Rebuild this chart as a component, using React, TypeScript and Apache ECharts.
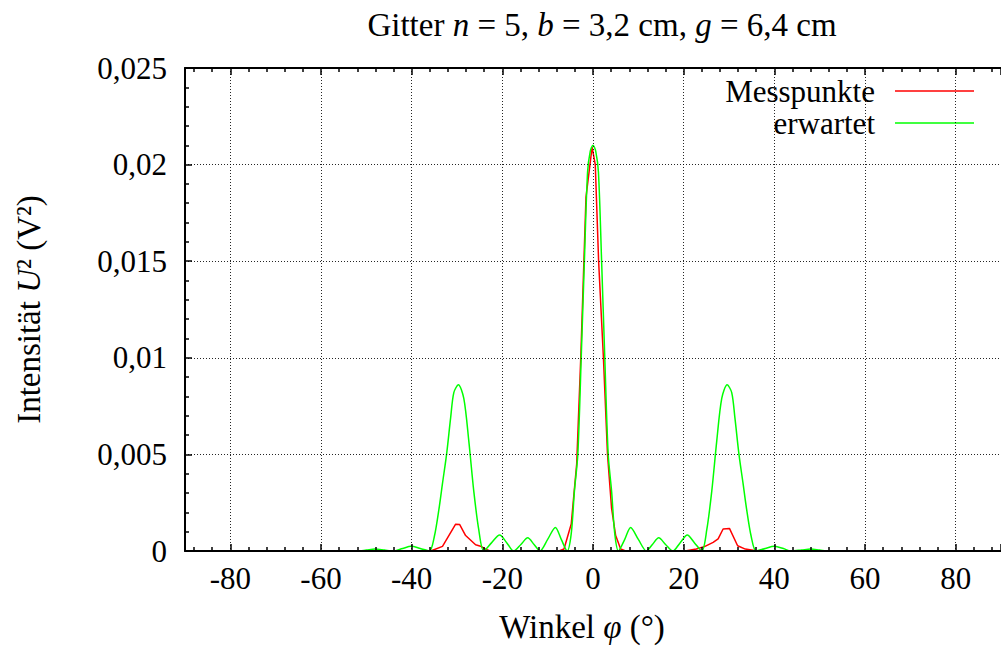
import React, { useEffect, useRef } from 'react';
import * as echarts from 'echarts';

// Messpunkte (measured), angle in degrees and intensity U^2 in V^2
const redX = [-90, -60, -40, -35.8, -33.2, -30.3, -29.4, -28.1, -25.9, -24.8, -23.7, -22.7, -15, -7.5, -6.4, -4.8, -3.6, -2.7, -1.55, -0.2, 0.5, 1.24, 2.3, 3.2, 4.1, 5.0, 6.1, 7.2, 15, 20.3, 22.8, 24.7, 26.5, 27.6, 28.7, 30.1, 31.9, 33.6, 35.6, 37, 60, 90];
const redY = [0, 0, 0, 0, 0.00024, 0.00139, 0.00137, 0.0008, 0.00032, 0.00025, 0.0001, 0, 0, 0, 0.0001, 0.0014, 0.0045, 0.01, 0.0183, 0.0209, 0.02, 0.015, 0.01, 0.005, 0.0022, 0.0008, 0.0001, 0, 0, 0, 0.0001, 0.00024, 0.00045, 0.00063, 0.00114, 0.00117, 0.00027, 0.0001, 0.00002, 0, 0, 0];

// erwartet (expected)
const greenX = [-90, -70, -56, -52, -50, -48.1, -46, -44.1, -42, -40.1, -38.1, -36.1, -35.0, -33.9, -33.2, -32.3, -31.4, -30.7, -29.7, -28.5, -27.4, -26.3, -25.2, -24.1, -22.4, -20.6, -19.0, -17.5, -15.9, -14.4, -13.0, -11.7, -10.0, -8.3, -7.0, -5.7, -4.8, -4.1, -3.35, -2.6, -1.9, -1.2, -0.6, 0, 0.6, 1.2, 1.9, 2.6, 3.35, 4.1, 4.8, 5.6, 7.0, 8.3, 10.0, 11.8, 13.1, 14.5, 16.0, 17.6, 19.2, 20.8, 22.4, 24.0, 25.1, 26.2, 27.3, 28.4, 29.6, 30.6, 31.3, 32.2, 33.1, 33.8, 34.9, 36.0, 38.0, 40.0, 42.0, 43.6, 46, 48.0, 50, 52, 56, 70, 90];
const greenY = [0, 0, 0, 0, 0.00005, 0.0001, 0.00005, 0, 0.00013, 0.00024, 0.00013, 0, 0.00075, 0.0023, 0.0035, 0.005, 0.0069, 0.0082, 0.0086, 0.0079, 0.0057, 0.0031, 0.0011, 0, 0.00042, 0.00083, 0.00042, 0, 0.00034, 0.00068, 0.00034, 0, 0.0006, 0.00122, 0.0006, 0, 0.0009, 0.0031, 0.005, 0.01, 0.015, 0.0196, 0.0207, 0.021, 0.0207, 0.0196, 0.015, 0.01, 0.005, 0.0031, 0.0009, 0, 0.0006, 0.00122, 0.0006, 0, 0.00034, 0.00068, 0.00034, 0, 0.00042, 0.00083, 0.00042, 0, 0.0011, 0.0031, 0.0057, 0.0079, 0.0086, 0.0082, 0.0069, 0.005, 0.0035, 0.0023, 0.00075, 0, 0.00013, 0.00024, 0.00013, 0, 0.00005, 0.0001, 0.00005, 0, 0, 0, 0];

const seriesNames = ['Messpunkte', 'erwartet'];
const seriesColors = ['#ff0000', '#00ff00'];
const xRange = [-90, 90];
const yRange = [0, 0.025];
const yStep = 0.005;

const FONT = 'Liberation Serif, serif';
const FS = 31; // tick labels
const FT = 33; // title, names

export default function App() {
  const ref = useRef<HTMLDivElement>(null);
  useEffect(() => {
    const chart = echarts.init(ref.current!, null, { renderer: 'svg' });
    const tickStyle = { color: '#000', width: 1.5 };
    const italic = { i: { fontFamily: FONT, fontSize: FT, fontStyle: 'italic', color: '#000' } };
    chart.setOption({
      animation: false,
      backgroundColor: '#fff',
      title: {
        text: 'Gitter {i|n} = 5, {i|b} = 3,2 cm, {i|g} = 6,4 cm',
        left: 597,
        textAlign: 'center',
        top: 3,
        textStyle: { fontFamily: FONT, fontSize: FT, fontWeight: 'normal', color: '#000', rich: italic },
      },
      legend: {
        orient: 'vertical',
        right: 27,
        top: 75,
        padding: 0,
        align: 'right',
        icon: 'rect',
        itemWidth: 79,
        itemHeight: 1.5,
        itemGap: 0,
        data: seriesNames,
        textStyle: { fontFamily: FONT, fontSize: 31, color: '#000', lineHeight: 32, padding: [0, 15, 0, 0] },
      },
      grid: { left: 185, right: -8, top: 68, bottom: 90, containLabel: false },
      xAxis: [
        {
          type: 'value', min: xRange[0], max: xRange[1], splitNumber: 9, position: 'bottom', z: 10,
          name: 'Winkel {i|φ} (°)', nameLocation: 'middle', nameGap: 59,
          nameTextStyle: { fontFamily: FONT, fontSize: FT, color: '#000', padding: [0, 22, 0, 0], rich: italic },
          axisLine: { onZero: false, lineStyle: { color: '#000', width: 2 } },
          axisTick: { inside: true, length: 7, lineStyle: tickStyle },
          minorTick: { show: true, splitNumber: 5, length: 4, lineStyle: tickStyle },
          axisLabel: { fontFamily: FONT, fontSize: FS, color: '#000', margin: 12, showMinLabel: false, showMaxLabel: false },
          splitLine: { show: true, lineStyle: { color: '#000', width: 1, type: [1, 2], opacity: 0.85 } },
        },
        {
          type: 'value', min: xRange[0], max: xRange[1], splitNumber: 9, position: 'top', z: 10,
          axisLine: { onZero: false, lineStyle: { color: '#000', width: 2 } },
          axisTick: { inside: true, length: 7, lineStyle: tickStyle },
          minorTick: { show: true, splitNumber: 5, length: 4, lineStyle: tickStyle },
          axisLabel: { show: false },
          splitLine: { show: false },
        },
      ],
      yAxis: [
        {
          type: 'value', min: yRange[0], max: yRange[1], interval: yStep, position: 'left', z: 10,
          name: 'Intensität {i|U}² (V²)', nameLocation: 'middle', nameGap: 140,
          nameTextStyle: { fontFamily: FONT, fontSize: FT, color: '#000', rich: italic },
          axisLine: { onZero: false, lineStyle: { color: '#000', width: 2 } },
          axisTick: { inside: true, length: 7, lineStyle: tickStyle },
          minorTick: { show: true, splitNumber: 5, length: 4, lineStyle: tickStyle },
          axisLabel: {
            fontFamily: FONT, fontSize: FS, color: '#000', margin: 18,
            formatter: (v: number) => String(+v.toFixed(4)).replace('.', ','),
          },
          splitLine: { show: true, lineStyle: { color: '#000', width: 1, type: [1, 2], opacity: 0.85 } },
        },
      ],
      series: [
        {
          name: seriesNames[0], type: 'line', symbol: 'none',
          data: redX.map((x, i) => [x, redY[i]]),
          lineStyle: { color: seriesColors[0], width: 1.5 }, itemStyle: { color: seriesColors[0] },
        },
        {
          name: seriesNames[1], type: 'line', symbol: 'none', smooth: 0.3,
          data: greenX.map((x, i) => [x, greenY[i]]),
          lineStyle: { color: seriesColors[1], width: 1.5 }, itemStyle: { color: seriesColors[1] },
        },
      ],
    });
    return () => chart.dispose();
  }, []);
  return <div ref={ref} style={{ position: 'absolute', left: 0, top: 0, width: 1001, height: 648 }} />;
}
